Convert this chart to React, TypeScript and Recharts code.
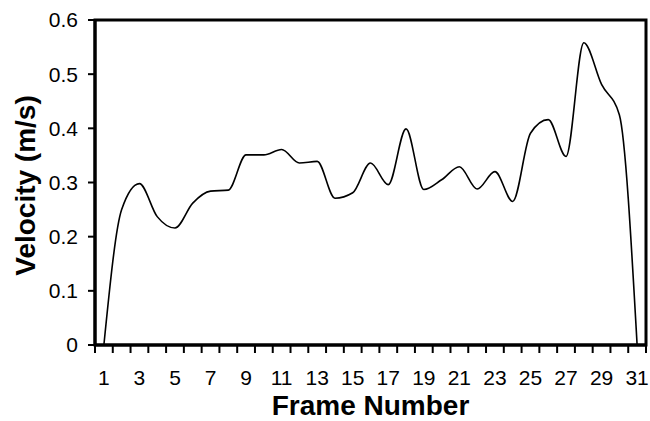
import React from 'react';
import { LineChart, Line, XAxis, YAxis, ReferenceArea } from 'recharts';

const frames = [1, 2, 3, 4, 5, 6, 7, 8, 9, 10, 11, 12, 13, 14, 15, 16, 17, 18, 19, 20, 21, 22, 23, 24, 25, 26, 27, 28, 29, 30, 31];
const velocity = [0, 0.25, 0.298, 0.237, 0.216, 0.262, 0.284, 0.286, 0.351, 0.351, 0.361, 0.336, 0.339, 0.271, 0.281, 0.336, 0.296, 0.399, 0.287, 0.305, 0.329, 0.288, 0.32, 0.265, 0.391, 0.416, 0.348, 0.558, 0.481, 0.425, 0];
const xTickLabels = [1, 3, 5, 7, 9, 11, 13, 15, 17, 19, 21, 23, 25, 27, 29, 31];
const yTicks = [0, 0.1, 0.2, 0.3, 0.4, 0.5, 0.6];

const data = frames.map((f, i) => ({ frame: f, velocity: velocity[i] }));
const boundaries = frames.map((f) => f - 0.5).concat([frames[frames.length - 1] + 0.5]);
const xTicks = [...boundaries, ...xTickLabels].sort((a, b) => a - b);

const FONT = '"Liberation Sans", Arial, sans-serif';

const XTick = (props: any) => {
  const { x, y, payload } = props;
  const v = payload.value;
  if (Number.isInteger(v)) {
    return (
      <text x={x} y={y + 40} textAnchor="middle" fontSize={21} fill="#000" fontFamily={FONT}>
        {v}
      </text>
    );
  }
  return <line x1={x} x2={x} y1={y} y2={y + 8} stroke="#000" strokeWidth={2} />;
};

const XTitle = (props: any) => {
  const vb = props.viewBox;
  return (
    <text x={vb.x + vb.width / 2} y={vb.y + 70} textAnchor="middle" fontSize={28} fontWeight="bold" fill="#000" fontFamily={FONT}>
      Frame Number
    </text>
  );
};

const YTitle = (props: any) => {
  const vb = props.viewBox;
  const cx = vb.x + 35;
  const cy = vb.y + vb.height / 2 + 3;
  return (
    <text x={cx} y={cy} textAnchor="middle" fontSize={28} fontWeight="bold" fill="#000" fontFamily={FONT} transform={`rotate(-90, ${cx}, ${cy})`}>
      Velocity (m/s)
    </text>
  );
};

export default function App() {
  return (
    <div style={{ position: 'absolute', left: 0, top: 0, background: '#fff' }}>
      <LineChart width={650} height={421} data={data} margin={{ top: 20, right: 4, bottom: 0, left: 0 }}>
        <XAxis
          dataKey="frame"
          type="number"
          domain={[0.5, 31.5]}
          ticks={xTicks}
          interval={0}
          tickSize={0}
          tickMargin={0}
          tickLine={false}
          tick={<XTick />}
          height={76}
          axisLine={{ stroke: '#000', strokeWidth: 3 }}
          label={<XTitle />}
        />
        <YAxis
          type="number"
          domain={[0, 0.6]}
          ticks={yTicks}
          interval={0}
          width={95}
          tickSize={7}
          tickMargin={10}
          tickFormatter={(v: number) => (v === 0 ? '0' : v.toFixed(1))}
          tick={{ fontSize: 21, fill: '#000', fontFamily: FONT }}
          tickLine={{ stroke: '#000', strokeWidth: 2 }}
          axisLine={{ stroke: '#000', strokeWidth: 3 }}
          label={<YTitle />}
        />
        <ReferenceArea y1={0} y2={0.6} fill="none" stroke="#000" strokeWidth={3} ifOverflow="visible" />
        <Line type="monotone" dataKey="velocity" stroke="#000" strokeWidth={1.6} dot={false} isAnimationActive={false} />
      </LineChart>
    </div>
  );
}
